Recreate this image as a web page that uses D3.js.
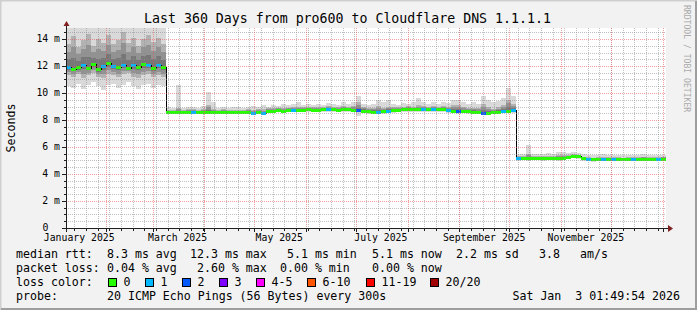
<!DOCTYPE html>
<html>
<head>
<meta charset="utf-8">
<script src="https://cdn.jsdelivr.net/npm/d3@7"></script>
<style>
  body { margin: 0; background: #f2f2f2; }
  svg { display: block; font-family: "DejaVu Sans Mono", monospace; }
  text { white-space: pre; }
</style>
</head>
<body>
<svg id="chart" width="697" height="310"></svg>
<script>
// time range of the graph (360 days back from the render time)
const startTime = new Date(2025, 0, 8, 1, 49, 54);
const endTime = new Date(2026, 0, 3, 1, 49, 54);
const stepDays = 3;

// median rtt per 3-day step, ms
const median = [
  11.95, 11.8, 11.9, 12.1, 11.85, 12.15, 11.75, 12.0, 12.2, 12.0,
  11.9, 12.05, 11.85, 12.1, 11.95, 12.15, 12.05, 11.85, 12.1, 11.9,
  8.58, 8.58, 8.57, 8.58, 8.6, 8.58, 8.57, 8.58, 8.6, 8.58,
  8.58, 8.6, 8.58, 8.57, 8.56, 8.58, 8.6, 8.55, 8.6, 8.55,
  8.68, 8.7, 8.72, 8.7, 8.72, 8.75, 8.72, 8.75, 8.78, 8.75,
  8.75, 8.78, 8.8, 8.78, 8.75, 8.8, 8.78, 8.75, 8.72, 8.7,
  8.65, 8.62, 8.62, 8.65, 8.68, 8.72, 8.75, 8.78, 8.8, 8.78,
  8.8, 8.8, 8.78, 8.8, 8.78, 8.8, 8.72, 8.68, 8.7, 8.68,
  8.65, 8.62, 8.6, 8.55, 8.55, 8.58, 8.62, 8.68, 8.7, 8.72,
  5.18, 5.17, 5.16, 5.17, 5.16, 5.15, 5.16, 5.17, 5.16, 5.18,
  5.25, 5.32, 5.3, 5.15, 5.1, 5.08, 5.1, 5.12, 5.1, 5.12,
  5.1, 5.08, 5.12, 5.1, 5.12, 5.13, 5.12, 5.12, 5.13, 5.14
];

// lost pings (of 20) per step, picks the loss colour
const loss = [
  1, 0, 0, 1, 0, 0, 0, 1, 0, 1,
  0, 1, 0, 1, 0, 0, 1, 0, 1, 0,
  0, 0, 0, 0, 0, 1, 0, 0, 0, 0,
  0, 0, 0, 0, 0, 0, 0, 1, 0, 1,
  0, 0, 0, 0, 0, 1, 0, 0, 0, 0,
  0, 0, 1, 0, 0, 0, 0, 0, 2, 0,
  0, 0, 1, 0, 1, 0, 0, 0, 0, 0,
  0, 1, 0, 1, 0, 0, 1, 0, 2, 0,
  0, 0, 0, 2, 0, 0, 0, 1, 0, 1,
  1, 0, 0, 0, 0, 0, 0, 0, 0, 0,
  0, 0, 0, 0, 1, 0, 0, 1, 0, 1,
  0, 0, 0, 1, 0, 0, 0, 0, 1, 0
];

// smoke: fastest / slowest ping per step
const smokeLo = [
  10.5, 10.4, 10.7, 10.3, 10.6, 10.8, 10.5, 10.2, 10.6, 10.7,
  10.4, 10.6, 10.8, 10.5, 10.3, 10.6, 10.7, 10.4, 10.6, 10.5,
  8.42, 8.43, 8.42, 8.44, 8.45, 8.42, 8.42, 8.43, 8.44, 8.43,
  8.43, 8.45, 8.43, 8.42, 8.41, 8.43, 8.45, 8.4, 8.44, 8.4,
  8.52, 8.55, 8.56, 8.55, 8.56, 8.58, 8.56, 8.58, 8.6, 8.58,
  8.58, 8.6, 8.62, 8.6, 8.58, 8.62, 8.6, 8.58, 8.3, 8.52,
  8.48, 8.45, 8.46, 8.48, 8.5, 8.55, 8.58, 8.6, 8.62, 8.6,
  8.62, 8.62, 8.6, 8.62, 8.6, 8.62, 8.55, 8.5, 8.45, 8.5,
  8.48, 8.45, 8.42, 8.38, 8.38, 8.42, 8.45, 8.5, 8.52, 8.5,
  5.0, 5.02, 5.0, 5.02, 5.01, 5.0, 5.01, 5.02, 5.0, 5.02,
  5.1, 5.15, 5.12, 4.98, 4.95, 4.92, 4.95, 4.97, 4.95, 4.97,
  4.95, 4.93, 4.97, 4.95, 4.97, 4.98, 4.97, 4.97, 4.98, 4.99
];
const smokeHi = [
  15.5, 15.5, 14.9, 15.5, 15.5, 15.5, 15.2, 15.5, 15.5, 15.5,
  15.0, 15.5, 15.5, 15.5, 15.5, 15.3, 15.5, 15.5, 15.5, 15.5,
  9.0, 8.9, 10.6, 8.9, 8.95, 9.0, 8.9, 9.05, 10.1, 9.3,
  8.9, 8.95, 8.9, 8.95, 9.0, 8.9, 9.0, 9.05, 9.0, 9.1,
  9.0, 9.1, 9.05, 9.2, 9.1, 9.15, 9.3, 9.1, 9.2, 9.1,
  9.15, 9.1, 9.25, 9.2, 9.1, 9.3, 9.2, 9.35, 9.75, 9.2,
  9.1, 9.2, 9.5, 9.3, 9.45, 9.2, 9.1, 9.25, 9.2, 9.3,
  9.6, 9.3, 9.2, 9.35, 9.2, 9.3, 9.25, 9.5, 9.45, 9.3,
  9.2, 9.3, 9.2, 9.75, 9.5, 9.3, 9.4, 9.6, 10.35, 9.8,
  5.45, 5.5, 6.15, 5.5, 5.45, 5.5, 5.55, 5.5, 5.65, 5.6,
  5.55, 5.6, 5.55, 5.45, 5.4, 5.38, 5.42, 5.45, 5.4, 5.42,
  5.4, 5.38, 5.42, 5.4, 5.42, 5.45, 5.42, 5.4, 5.42, 5.44
];
// smoke: inner (dense) part of the ping spread
const smokeIqLo = [
  11.3, 11.2, 11.4, 11.1, 11.3, 11.5, 11.2, 11.1, 11.4, 11.3,
  11.2, 11.4, 11.5, 11.2, 11.1, 11.3, 11.4, 11.2, 11.3, 11.2,
  8.52, 8.52, 8.51, 8.52, 8.54, 8.52, 8.51, 8.52, 8.54, 8.52,
  8.52, 8.54, 8.52, 8.51, 8.5, 8.52, 8.54, 8.49, 8.54, 8.49,
  8.62, 8.64, 8.66, 8.64, 8.66, 8.69, 8.66, 8.69, 8.72, 8.69,
  8.69, 8.72, 8.74, 8.72, 8.69, 8.74, 8.72, 8.69, 8.6, 8.64,
  8.59, 8.56, 8.56, 8.59, 8.62, 8.66, 8.69, 8.72, 8.74, 8.72,
  8.74, 8.74, 8.72, 8.74, 8.72, 8.74, 8.66, 8.62, 8.6, 8.62,
  8.59, 8.56, 8.54, 8.49, 8.49, 8.52, 8.56, 8.62, 8.64, 8.66,
  5.12, 5.11, 5.1, 5.11, 5.1, 5.09, 5.1, 5.11, 5.1, 5.12,
  5.19, 5.26, 5.24, 5.09, 5.04, 5.02, 5.04, 5.06, 5.04, 5.06,
  5.04, 5.02, 5.06, 5.04, 5.06, 5.07, 5.06, 5.06, 5.07, 5.08
];
const smokeIqHi = [
  13.6, 14.2, 13.4, 13.9, 14.4, 13.5, 14.0, 13.7, 14.3, 13.6,
  13.9, 14.5, 13.7, 14.1, 13.5, 14.0, 14.3, 13.8, 14.1, 13.6,
  8.76, 8.76, 8.9, 8.76, 8.78, 8.78, 8.75, 8.8, 9.1, 8.8,
  8.76, 8.78, 8.76, 8.75, 8.76, 8.76, 8.8, 8.75, 8.8, 8.78,
  8.88, 8.9, 8.92, 8.92, 8.92, 8.95, 8.95, 8.95, 9.0, 8.95,
  8.95, 8.98, 9.02, 9.0, 8.95, 9.02, 9.0, 9.05, 9.3, 8.95,
  8.88, 8.88, 9.05, 8.9, 9.0, 8.95, 8.95, 9.0, 9.02, 9.0,
  9.1, 9.02, 8.98, 9.05, 8.98, 9.02, 9.0, 9.1, 9.1, 8.95,
  8.9, 8.9, 8.88, 9.15, 9.0, 8.85, 8.95, 9.1, 9.5, 9.2,
  5.3, 5.32, 5.5, 5.32, 5.3, 5.3, 5.32, 5.3, 5.4, 5.38,
  5.38, 5.45, 5.42, 5.28, 5.24, 5.22, 5.24, 5.26, 5.24, 5.26,
  5.24, 5.22, 5.26, 5.24, 5.26, 5.28, 5.26, 5.25, 5.26, 5.28
];

const yMajor = [0, 2, 4, 6, 8, 10, 12, 14];
const lossColors = ["#26ff00", "#00b8ff", "#0059ff", "#7e00ff", "#ff00ff", "#ff5500", "#ff0000", "#a10000"];
const lossLabels = ["0", "1", "2", "3", "4-5", "6-10", "11-19", "20/20"];

const svg = d3.select("#chart");
const W = 697, H = 310;

let x = d3.scaleTime().domain([startTime, endTime]).range([66, 666]);
let y = d3.scaleLinear().domain([0, 200 / 13.5]).range([228, 28]);
const px = v => Math.round(v) + 0.5;
const t = i => d3.timeDay.offset(startTime, i * stepDays);

// background + 3d frame
svg.append("rect").attr("width", W).attr("height", H).attr("fill", "#f2f2f2");
svg.append("path").attr("d", `M0.5,${H} V0.5 H${W}`).attr("fill", "none").attr("stroke", "#cfcfcf").attr("stroke-width", 2);
svg.append("path").attr("d", `M1,${H - 1} H${W - 1} V1`).attr("fill", "none").attr("stroke", "#9e9e9e").attr("stroke-width", 2);

// canvas
svg.append("rect").attr("x", 66).attr("y", 28).attr("width", 600).attr("height", 200).attr("fill", "#fff");

svg.append("clipPath").attr("id", "plotclip")
  .append("rect").attr("x", 66).attr("y", 28).attr("width", 600).attr("height", 201);

let plot = svg.append("g").attr("clip-path", "url(#plotclip)");
let idx = d3.range(median.length);

// smoke, outer spread
plot.append("g").attr("shape-rendering", "crispEdges")
  .selectAll("rect").data(idx).join("rect")
  .attr("x", i => Math.round(x(t(i))))
  .attr("width", i => Math.round(x(t(i + 1))) - Math.round(x(t(i))))
  .attr("y", i => y(smokeHi[i]))
  .attr("height", i => y(smokeLo[i]) - y(smokeHi[i]))
  .attr("fill", "#d9d9d9");

// smoke, denser core drawn in shades getting darker towards the median
[1, 0.66, 0.33].forEach(f => {
  plot.append("g").attr("shape-rendering", "crispEdges")
    .selectAll("rect").data(idx).join("rect")
    .attr("x", i => Math.round(x(t(i))))
    .attr("width", i => Math.round(x(t(i + 1))) - Math.round(x(t(i))))
    .attr("y", i => y(median[i] + (smokeIqHi[i] - median[i]) * f))
    .attr("height", i => y(median[i] - (median[i] - smokeIqLo[i]) * f) - y(median[i] + (smokeIqHi[i] - median[i]) * f))
    .attr("fill", "rgba(0,0,0,0.18)");
});

// median line (black) under the loss colour bands
let pts = idx.map(i => [t(i), median[i]]);
pts.push([endTime, median[median.length - 1]]);
plot.append("path")
  .attr("d", d3.line().x(d => x(d[0])).y(d => px(y(d[1]))).curve(d3.curveStepAfter)(pts))
  .attr("fill", "none").attr("stroke", "#000").attr("stroke-width", 1)
  .attr("shape-rendering", "crispEdges");

plot.append("g").attr("shape-rendering", "crispEdges")
  .selectAll("rect").data(idx).join("rect")
  .attr("x", i => Math.round(x(t(i))))
  .attr("width", i => Math.round(x(t(i + 1))) - Math.round(x(t(i))))
  .attr("y", i => Math.round(y(median[i])) - 1)
  .attr("height", 3)
  .attr("fill", i => lossColors[loss[i]]);

// grid (drawn over the data like rrdtool does)
let grid = svg.append("g").attr("fill", "none").attr("stroke-width", 1).attr("stroke-dasharray", "1,1");
let yMinor = d3.range(0.5, 14.81, 0.5).filter(v => v % 2 !== 0);
grid.selectAll(".hmin").data(yMinor).join("line")
  .attr("x1", 66).attr("x2", 666)
  .attr("y1", d => px(y(d))).attr("y2", d => px(y(d)))
  .attr("stroke", "rgba(140,140,140,0.55)");
let weeks = d3.timeMonday.range(startTime, endTime);
grid.selectAll(".vmin").data(weeks).join("line")
  .attr("x1", d => px(x(d))).attr("x2", d => px(x(d)))
  .attr("y1", 28).attr("y2", 228)
  .attr("stroke", "rgba(140,140,140,0.55)");
grid.selectAll(".hmaj").data(yMajor.slice(1)).join("line")
  .attr("x1", 66).attr("x2", 666)
  .attr("y1", d => px(y(d))).attr("y2", d => px(y(d)))
  .attr("stroke", "rgba(230,80,80,0.55)");
let months = d3.timeMonth.range(startTime, endTime);
grid.selectAll(".vmaj").data(months).join("line")
  .attr("x1", d => px(x(d))).attr("x2", d => px(x(d)))
  .attr("y1", 28).attr("y2", 228)
  .attr("stroke", "rgba(230,80,80,0.55)");

// axes
let axis = svg.append("g").attr("stroke", "#1f1f1f").attr("stroke-width", 1).attr("shape-rendering", "crispEdges");
axis.append("line").attr("x1", 62).attr("x2", 668).attr("y1", 228.5).attr("y2", 228.5);
axis.append("line").attr("x1", 66.5).attr("x2", 66.5).attr("y1", 232).attr("y2", 25);
axis.selectAll(".yt").data(yMajor).join("line")
  .attr("x1", 62).attr("x2", 66).attr("y1", d => px(y(d))).attr("y2", d => px(y(d)));
axis.selectAll(".yt2").data(yMinor).join("line")
  .attr("x1", 64).attr("x2", 66).attr("y1", d => px(y(d))).attr("y2", d => px(y(d)));
axis.selectAll(".xt").data(months).join("line")
  .attr("x1", d => px(x(d))).attr("x2", d => px(x(d))).attr("y1", 229).attr("y2", 232);
axis.selectAll(".xt2").data(weeks).join("line")
  .attr("x1", d => px(x(d))).attr("x2", d => px(x(d))).attr("y1", 229).attr("y2", 231);
svg.append("path").attr("d", "M668,225 L673,228.5 L668,232 Z").attr("fill", "#802020");
svg.append("path").attr("d", "M63.5,26 L66.5,21 L69.5,26 Z").attr("fill", "#802020");

// tick labels
svg.append("g").attr("font-size", "9.8px").attr("fill", "#000")
  .selectAll("text").data(yMajor).join("text")
  .attr("x", d => d === 0 ? 48.5 : 60).attr("y", d => y(d)).attr("dy", "0.35em").attr("text-anchor", "end")
  .text(d => d === 0 ? "0" : d + " m");

// month labels every 2 months, centred half a month after the month start
let labelMonths = [new Date(2025, 0, 1)].concat(months.filter(d => d.getMonth() % 2 === 0))
  .filter(d => x(d3.timeDay.offset(d, 15)) < 666);
const fmtMonth = d3.timeFormat("%B %Y");
svg.append("g").attr("font-size", "9.8px").attr("fill", "#000")
  .selectAll("text").data(labelMonths).join("text")
  .attr("x", d => x(d3.timeDay.offset(d, 15)))
  .attr("y", 240.5).attr("text-anchor", "middle")
  .text(d => fmtMonth(d));

// title, axis title, watermark
svg.append("text").attr("x", 347.5).attr("y", 23).attr("text-anchor", "middle")
  .attr("font-size", "13.25px").attr("fill", "#000")
  .text("Last 360 Days from pro600 to Cloudflare DNS 1.1.1.1");
svg.append("text").attr("transform", "translate(14.5,128) rotate(-90)").attr("text-anchor", "middle")
  .attr("font-size", "11.6px").attr("fill", "#000").text("Seconds");
svg.append("text").attr("transform", "translate(684,5) rotate(90)")
  .attr("font-size", "8.1px").attr("fill", "#aaaaaa").text("RRDTOOL / TOBI OETIKER");

// legend
let legend = svg.append("g").attr("font-size", "11.6px").attr("fill", "#000");
const legendRows = [
  [[16, "median rtt:"], [107, "8.3 ms avg"], [190, "12.3 ms max"], [287, "5.1 ms min"], [372, "5.1 ms now"], [456, "2.2 ms sd"], [539, "3.8"], [580, "am/s"]],
  [[16, "packet loss:"], [107, "0.04 % avg"], [197, "2.60 % max"], [280, "0.00 % min"], [372, "0.00 % now"]],
  [[16, "loss color:"]],
  [[16, "probe:"], [107, "20 ICMP Echo Pings (56 Bytes) every 300s"]]
];
const rowY = [258, 272, 286, 300];
legendRows.forEach((row, r) => {
  row.forEach(([lx, s]) => legend.append("text").attr("x", lx).attr("y", rowY[r]).text(s));
});
legend.append("text").attr("x", 680).attr("y", rowY[3]).attr("text-anchor", "end").text("Sat Jan  3 01:49:54 2026");

const swatchX = [108.5, 145.5, 182.5, 219.5, 256.5, 307.5, 366.5, 430.5];
lossColors.forEach((c, k) => {
  legend.append("rect").attr("x", swatchX[k]).attr("y", 278.5).attr("width", 8).attr("height", 8)
    .attr("fill", c).attr("stroke", "#000").attr("stroke-width", 1);
  legend.append("text").attr("x", swatchX[k] + 15).attr("y", rowY[2]).text(lossLabels[k]);
});
</script>
</body>
</html>
